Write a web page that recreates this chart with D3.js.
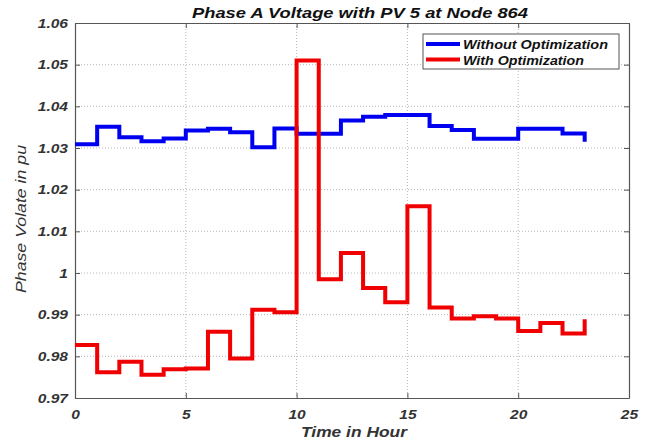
<!DOCTYPE html>
<html>
<head>
<meta charset="utf-8">
<script src="https://cdn.jsdelivr.net/npm/d3@7"></script>
<style>
  html, body { margin: 0; padding: 0; background: #fff; }
  svg { display: block; }
  text { font-family: Arial, "Liberation Sans", sans-serif; font-style: italic; }
</style>
</head>
<body>
<svg id="chart" width="650" height="444"></svg>
<script>
// Hourly phase A voltage (pu) at node 864, hours 0..23
const hours = d3.range(0, 24);
const withoutOpt = [1.0309, 1.0351, 1.0326, 1.0316, 1.0323, 1.0342, 1.0346, 1.0338, 1.0302, 1.0347,
                    1.0334, 1.0334, 1.0366, 1.0375, 1.0379, 1.0379, 1.0353, 1.0343, 1.0322, 1.0322,
                    1.0346, 1.0346, 1.0335, 1.0315];
const withOpt = [0.9827, 0.9762, 0.9787, 0.9756, 0.9769, 0.9771, 0.9859, 0.9795, 0.9912, 0.9906,
                 1.0510, 0.9985, 1.0048, 0.9964, 0.9930, 1.0160, 0.9917, 0.9891, 0.9896, 0.9891,
                 0.9861, 0.9880, 0.9855, 0.9889];
const seriesNames = ["Without Optimization", "With Optimization"];
const seriesColors = ["#0000f0", "#f00000"];
const xTicks = [0, 5, 10, 15, 20, 25];
const yTicks = [0.97, 0.98, 0.99, 1.00, 1.01, 1.02, 1.03, 1.04, 1.05, 1.06];

const svg = d3.select("#chart");
const m = { left: 75, right: 21, top: 23, bottom: 46 };
const W = 650, H = 444;
const iw = W - m.left - m.right, ih = H - m.top - m.bottom;

const x = d3.scaleLinear().domain([0, 25]).range([m.left, m.left + iw]);
const y = d3.scaleLinear().domain([0.97, 1.06]).range([m.top + ih, m.top]);

const fmtY = d => (d === 1 ? "1" : d3.format(".2f")(d));

// widen text horizontally by a fixed factor
const stretch = (sel, k) => sel.each(function () {
  const w = this.getComputedTextLength();
  d3.select(this).attr("textLength", w * k).attr("lengthAdjust", "spacingAndGlyphs");
});

// grid
const grid = svg.append("g");
grid.selectAll(".gx").data(xTicks.slice(1, -1)).join("line")
  .attr("x1", d => x(d)).attr("x2", d => x(d))
  .attr("y1", m.top).attr("y2", m.top + ih)
  .attr("stroke", "#b8b8b8").attr("stroke-width", 1).attr("stroke-dasharray", "1,2");
grid.selectAll(".gy").data(yTicks.slice(1, -1)).join("line")
  .attr("x1", m.left).attr("x2", m.left + iw)
  .attr("y1", d => y(d)).attr("y2", d => y(d))
  .attr("stroke", "#b8b8b8").attr("stroke-width", 1).attr("stroke-dasharray", "1,2");

// axes (ticks pointing inward)
const axColor = "#555";
const xAxis = svg.append("g").attr("transform", `translate(0,${m.top + ih})`)
  .call(d3.axisBottom(x).tickValues(xTicks).tickSizeInner(-5).tickSizeOuter(0).tickPadding(11));
const yAxis = svg.append("g").attr("transform", `translate(${m.left},0)`)
  .call(d3.axisLeft(y).tickValues(yTicks).tickFormat(fmtY).tickSizeInner(-5).tickSizeOuter(0).tickPadding(7));
const xTop = svg.append("g").attr("transform", `translate(0,${m.top})`)
  .call(d3.axisTop(x).tickValues(xTicks).tickSizeInner(-5).tickSizeOuter(0).tickFormat(""));
const yRight = svg.append("g").attr("transform", `translate(${m.left + iw},0)`)
  .call(d3.axisRight(y).tickValues(yTicks).tickSizeInner(-5).tickSizeOuter(0).tickFormat(""));
[xAxis, yAxis, xTop, yRight].forEach(g => {
  g.select(".domain").attr("stroke", axColor).attr("stroke-width", 1.2);
  g.selectAll(".tick line").attr("stroke", axColor);
  g.selectAll("text").attr("fill", "#333").attr("font-size", 13.5)
    .attr("font-family", "Arial, 'Liberation Sans', sans-serif")
    .style("font-weight", "bold").style("font-style", "italic");
});
stretch(xAxis.selectAll("text"), 1.15);
stretch(yAxis.selectAll("text"), 1.15);

// step series
const line = d3.line().x((d, i) => x(hours[i])).y(d => y(d)).curve(d3.curveStepAfter);
[withoutOpt, withOpt].forEach((vals, k) => {
  svg.append("path").datum(vals)
    .attr("d", line)
    .attr("fill", "none")
    .attr("stroke", seriesColors[k])
    .attr("stroke-width", 4)
    .attr("stroke-linejoin", "miter");
});

// title and axis labels
svg.append("text").attr("x", 360).attr("y", 18)
  .attr("text-anchor", "middle").attr("font-size", 14).attr("fill", "#111")
  .style("font-weight", "bold")
  .attr("textLength", 336).attr("lengthAdjust", "spacingAndGlyphs")
  .text("Phase A Voltage with PV 5 at Node 864");
svg.append("text").attr("x", 354).attr("y", 437)
  .attr("text-anchor", "middle").attr("font-size", 14).attr("fill", "#333")
  .style("font-weight", "bold")
  .attr("textLength", 106).attr("lengthAdjust", "spacingAndGlyphs")
  .text("Time in Hour");
svg.append("text")
  .attr("transform", "translate(26,219) rotate(-90)")
  .attr("text-anchor", "middle").attr("font-size", 15).attr("fill", "#333")
  .style("font-weight", "normal")
  .attr("textLength", 148).attr("lengthAdjust", "spacingAndGlyphs")
  .text("Phase Volate in pu");

// legend
const legendWidths = [145, 121];
const lg = svg.append("g").attr("transform", "translate(423,34)");
lg.append("rect").attr("width", 196).attr("height", 35)
  .attr("fill", "#fff").attr("stroke", "#555").attr("stroke-width", 1);
seriesNames.forEach((name, k) => {
  const yy = 10 + k * 15.5;
  lg.append("line").attr("x1", 3).attr("x2", 37).attr("y1", yy).attr("y2", yy)
    .attr("stroke", seriesColors[k]).attr("stroke-width", 4);
  lg.append("text").attr("x", 40).attr("y", yy + 5)
    .attr("font-size", 13.5).attr("fill", "#111")
    .style("font-weight", "bold")
    .attr("textLength", legendWidths[k]).attr("lengthAdjust", "spacingAndGlyphs")
    .text(name);
});
</script>
</body>
</html>
